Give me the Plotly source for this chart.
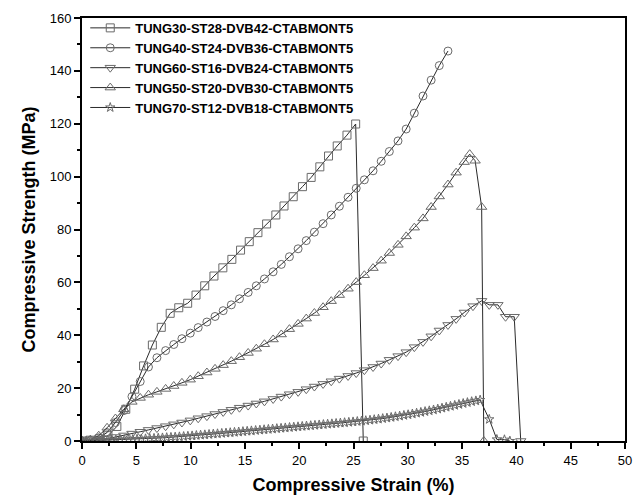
import plotly.graph_objects as go

# ---------------- data ----------------
names = [
    "TUNG30-ST28-DVB42-CTABMONT5",
    "TUNG40-ST24-DVB36-CTABMONT5",
    "TUNG60-ST16-DVB24-CTABMONT5",
    "TUNG50-ST20-DVB30-CTABMONT5",
    "TUNG70-ST12-DVB18-CTABMONT5",
]

sq_strain = [0, 0.75, 1.57, 2.39, 3.21, 4.03, 4.85, 5.67, 6.48, 7.30, 8.12, 8.91, 9.73, 10.5,
             11.3, 12.15, 12.97, 13.8, 14.6, 15.4, 16.2, 17.0, 17.85, 18.6, 19.45, 20.3, 21.1,
             21.9, 22.7, 23.5, 24.4, 25.2, 25.9]
sq_stress = [0, 0.3, 0.8, 2.0, 5.5, 12.0, 19.6, 28.4, 36.3, 43.0, 48.3, 50.4, 52.1, 55.2,
             58.7, 62.4, 65.5, 68.7, 72.2, 75.4, 78.8, 82.1, 85.5, 88.9, 92.4, 96.2, 99.7,
             103.7, 107.8, 111.6, 115.7, 119.9, 0]

ci_strain = [0, 0.77, 1.54, 2.31, 3.08, 3.85, 4.6, 5.36, 6.12, 6.9, 7.7, 8.45, 9.2, 9.97, 10.7,
             11.5, 12.25, 13.0, 13.75, 14.5, 15.3, 16.05, 16.8, 17.6, 18.35, 19.1, 19.9, 20.65,
             21.4, 22.2, 22.95, 23.7, 24.5, 25.25, 26.0, 26.8, 27.55, 28.3, 29.1, 29.85, 30.6,
             31.4, 32.15, 32.9, 33.7]
ci_stress = [0, 0.3, 1.2, 3.2, 7.0, 11.5, 16.8, 22.5, 28.0, 31.5, 34.2, 36.5, 38.7, 40.8, 42.9,
             45.0, 47.1, 49.3, 51.5, 53.8, 56.2, 58.7, 61.3, 64.0, 66.8, 69.7, 72.7, 75.8,
             79.0, 82.2, 85.5, 88.8, 92.2, 95.6, 98.8, 102.2, 105.8, 109.5, 113.5, 118.0, 124.0,
             130.5, 136.5, 142.0, 147.5]

dn_strain = [0, 0.77, 1.54, 2.31, 3.08, 3.85, 4.6, 5.36, 6.12, 6.9, 7.7, 8.45, 9.2, 9.97, 10.7,
             11.5, 12.25, 13.0, 13.75, 14.5, 15.3, 16.05, 16.8, 17.6, 18.35, 19.1, 19.9, 20.65,
             21.4, 22.2, 22.95, 23.7, 24.5, 25.25, 26.0, 26.8, 27.55, 28.3, 29.1, 29.85, 30.6,
             31.4, 32.15, 32.9, 33.7, 34.45, 35.2, 36.0, 36.8, 37.5, 38.3, 39.0, 39.8, 40.4]
dn_stress = [0, 0.3, 0.6, 1.0, 1.5, 2.1, 2.8, 3.5, 4.2, 4.9, 5.6, 6.3, 7.0, 7.8, 8.6,
             9.4, 10.2, 11.0, 11.8, 12.6, 13.4, 14.2, 15.0, 15.9, 16.8, 17.7, 18.6, 19.6,
             20.6, 21.6, 22.6, 23.6, 24.6, 25.7, 26.8, 28.0, 29.3, 30.7, 32.1, 33.6, 35.5,
             37.5, 39.6, 41.8, 43.9, 46.2, 48.6, 51.0, 53.0, 51.5, 51.5, 47.0, 47.0, 0]

up_strain = [0, 0.77, 1.54, 2.31, 3.08, 3.85, 4.6, 5.36, 6.12, 6.9, 7.7, 8.45, 9.2, 9.97, 10.7,
             11.5, 12.25, 13.0, 13.75, 14.5, 15.3, 16.05, 16.8, 17.6, 18.35, 19.1, 19.9, 20.65,
             21.4, 22.2, 22.95, 23.7, 24.5, 25.25, 26.0, 26.8, 27.55, 28.3, 29.1, 29.85, 30.6,
             31.4, 32.15, 32.9, 33.7, 34.45, 35.2, 35.7, 36.2, 36.8, 37.0]
up_stress = [0, 0.5, 2.0, 5.0, 8.5, 12.0, 14.8, 16.3, 17.5, 18.6, 19.7, 20.8, 22.0, 23.2, 24.5,
             25.9, 27.3, 28.7, 30.2, 31.7, 33.3, 34.9, 36.6, 38.4, 40.3, 42.3, 44.3, 46.3,
             48.4, 50.6, 52.9, 55.2, 57.6, 60.1, 62.7, 65.4, 68.2, 71.1, 74.2, 77.4, 80.7,
             84.2, 88.5, 92.5, 97.0, 101.5, 105.5, 108.5, 106.0, 88.5, 0]

st_strain = [0, 0.39, 0.78, 1.17, 1.56, 1.95, 2.34, 2.73, 3.12, 3.51, 3.9, 4.29, 4.68, 5.07,
             5.46, 5.85, 6.24, 6.63, 7.02, 7.41, 7.8, 8.19, 8.58, 8.97, 9.36, 9.75, 10.14, 10.53,
             10.92, 11.31, 11.7, 12.09, 12.48, 12.87, 13.26, 13.65, 14.04, 14.43, 14.82, 15.21,
             15.6, 15.99, 16.38, 16.77, 17.16, 17.55, 17.94, 18.33, 18.72, 19.11, 19.5, 19.89,
             20.28, 20.67, 21.06, 21.45, 21.84, 22.23, 22.62, 23.01, 23.4, 23.79, 24.18, 24.57,
             24.96, 25.35, 25.74, 26.13, 26.52, 26.91, 27.3, 27.69, 28.08, 28.47, 28.86, 29.25,
             29.64, 30.03, 30.42, 30.81, 31.2, 31.59, 31.98, 32.37, 32.76, 33.15, 33.54, 33.93,
             34.32, 34.71, 35.1, 35.49, 35.88, 36.27, 36.66, 37.5, 38.2, 38.9, 39.4]
st_stress = [0, 0.05, 0.1, 0.15, 0.2, 0.25, 0.3, 0.35, 0.4, 0.45, 0.5, 0.55, 0.62, 0.7,
             0.78, 0.86, 0.94, 1.02, 1.1, 1.2, 1.3, 1.4, 1.5, 1.6, 1.72, 1.84, 1.96, 2.1,
             2.23, 2.36, 2.5, 2.63, 2.76, 2.9, 3.03, 3.17, 3.3, 3.44, 3.58, 3.72,
             3.86, 4.0, 4.14, 4.28, 4.42, 4.56, 4.7, 4.84, 4.98, 5.12, 5.26, 5.4,
             5.54, 5.68, 5.82, 5.96, 6.1, 6.24, 6.38, 6.52, 6.66, 6.8, 6.95, 7.1,
             7.25, 7.4, 7.55, 7.72, 7.9, 8.1, 8.3, 8.5, 8.72, 8.95, 9.2, 9.45,
             9.7, 9.96, 10.25, 10.55, 10.85, 11.15, 11.45, 11.77, 12.1, 12.45, 12.8, 13.15,
             13.5, 13.85, 14.2, 14.55, 14.9, 15.2, 15.5, 8.2, 0.6, 0.5, 0]

x_ticks = [0, 5, 10, 15, 20, 25, 30, 35, 40, 45, 50]
y_ticks = [0, 20, 40, 60, 80, 100, 120, 140, 160]

# ---------------- figure ----------------
FONT = "Arial, Liberation Sans, sans-serif"
LINE_C = "#2a2a2a"
MK_C = "#6a6a6a"

series = [
    (sq_strain, sq_stress, "square-open", 8),
    (ci_strain, ci_stress, "circle-open", 8),
    (dn_strain, dn_stress, "triangle-down-open", 9),
    (up_strain, up_stress, "triangle-up-open", 9),
    (st_strain, st_stress, "star-open", 7),
]

fig = go.Figure()
for name, (xs, ys, sym, sz) in zip(names, series):
    fig.add_trace(go.Scatter(
        x=xs, y=ys, name="<b>" + name + "</b>", mode="lines+markers",
        line=dict(color=LINE_C, width=1),
        marker=dict(symbol=sym, size=sz, color=MK_C, line=dict(width=1, color=MK_C)),
    ))

axis_common = dict(
    showline=True, linecolor="black", linewidth=2, mirror=True,
    ticks="outside", ticklen=6, tickwidth=1.5, tickcolor="black",
    showgrid=False, zeroline=False,
    tickfont=dict(family=FONT, size=13, color="black"),
)

fig.update_xaxes(
    range=[0, 50], tickvals=x_ticks,
    minor=dict(dtick=2.5, ticks="outside", ticklen=3, tickwidth=1.5, tickcolor="black"),
    title=dict(text="<b>Compressive Strain (%)</b>",
               font=dict(family=FONT, size=18, color="black"), standoff=12),
    **axis_common,
)
fig.update_yaxes(
    range=[0, 160], tickvals=y_ticks,
    minor=dict(dtick=10, ticks="outside", ticklen=3, tickwidth=1.5, tickcolor="black"),
    title=dict(text="<b>Compressive Strength (MPa)</b>",
               font=dict(family=FONT, size=18, color="black"), standoff=9),
    **axis_common,
)

fig.update_layout(
    width=640, height=502,
    margin=dict(l=82, r=8, t=18, b=61),
    paper_bgcolor="white", plot_bgcolor="white",
    showlegend=True,
    legend=dict(
        x=0.006, y=1.012, xanchor="left", yanchor="top",
        bgcolor="rgba(0,0,0,0)", borderwidth=0,
        font=dict(family=FONT, size=13, color="black"),
        tracegroupgap=0, itemwidth=40,
    ),
)

fig.write_html("out.html")
